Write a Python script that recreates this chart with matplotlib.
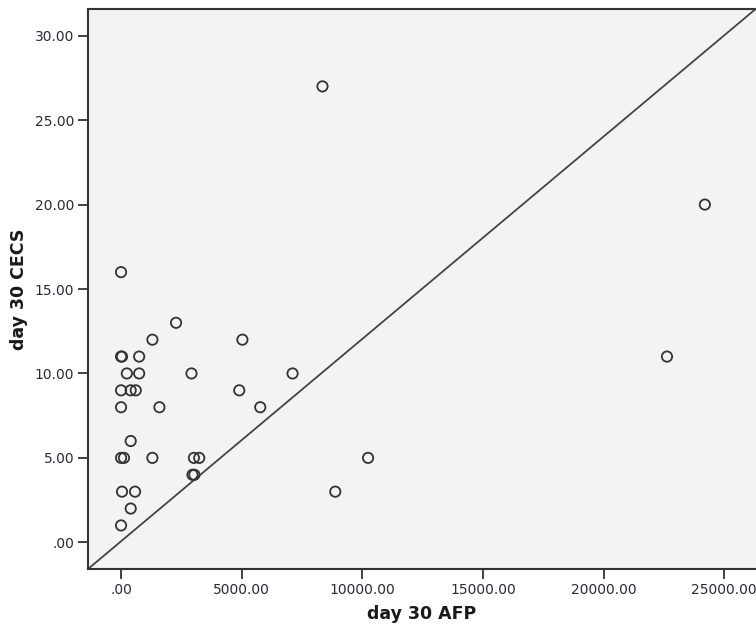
import matplotlib
matplotlib.use("Agg")
import matplotlib.pyplot as plt
from matplotlib.ticker import FuncFormatter, MultipleLocator

# Data (day 30 AFP vs day 30 CECS)
afp = [0, 2280, 1300, 0, 40, 750, 240, 750, 2920, 7110, 5030,
       0, 400, 610, 4900, 0, 1590, 5770, 400, 0, 120, 1300, 3020,
       3240, 10240, 2960, 3040, 40, 580, 8880, 400, 0, 8350, 24200, 22630]
cecs = [16, 13, 12, 11, 11, 11, 10, 10, 10, 10, 12,
        9, 9, 9, 9, 8, 8, 8, 6, 5, 5, 5, 5,
        5, 5, 4, 4, 3, 3, 3, 2, 1, 27, 20, 11]

x_label = "day 30 AFP"
y_label = "day 30 CECS"
x_limits = (-1370, 26320)
y_limits = (-1.58, 31.6)

fig = plt.figure(figsize=(7.56, 6.27), dpi=100)
ax = fig.add_axes([88/756, 58/627, 1 - 88/756, (569 - 8.7)/627])
ax.set_facecolor("#f3f3f3")

ax.scatter(afp, cecs, s=55, facecolors="none", edgecolors="#333333",
           linewidths=1.3, zorder=3)
ax.plot([0, 1], [0, 1], transform=ax.transAxes, color="#444444", lw=1.3, zorder=2)

ax.set_xlim(*x_limits)
ax.set_ylim(*y_limits)
ax.xaxis.set_major_locator(MultipleLocator(5000))
ax.yaxis.set_major_locator(MultipleLocator(5))

def fmt(v, pos):
    s = f"{v:.2f}"
    if s.startswith("0."):
        s = s[1:]
    return s

ax.xaxis.set_major_formatter(FuncFormatter(fmt))
ax.yaxis.set_major_formatter(FuncFormatter(fmt))

for side in ["left", "bottom", "top"]:
    ax.spines[side].set_color("#333333")
    ax.spines[side].set_linewidth(1.5)
ax.spines["right"].set_visible(False)

ax.tick_params(axis="both", direction="out", length=7, width=1.3, color="#333333",
               labelsize=10, labelcolor="#2a2a3a", pad=3)

ax.set_xlabel(x_label, fontsize=12.5, fontweight="bold", color="#1a1a1a", labelpad=6)
ax.set_ylabel(y_label, fontsize=12.5, fontweight="bold", color="#1a1a1a", labelpad=5)

fig.savefig("out.png", dpi=100, facecolor="white")
